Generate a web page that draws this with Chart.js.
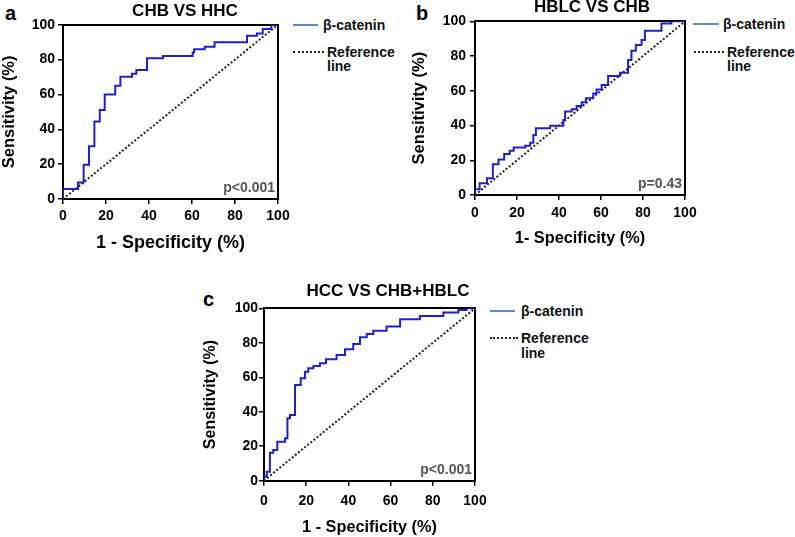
<!DOCTYPE html>
<html>
<head>
<meta charset="utf-8">
<script src="https://cdn.jsdelivr.net/npm/chart.js@4.4.0/dist/chart.umd.min.js"></script>
<style>
  html, body { margin: 0; padding: 0; background: #fff; overflow: hidden; }
  body { width: 795px; height: 537px; position: relative; font-family: "Liberation Sans", Arial, sans-serif; }
  canvas { position: absolute; }
  .txt { position: absolute; font-weight: bold; font-size: 14px; line-height: 16px; color: #111; white-space: nowrap; }
  .letter { position: absolute; font-weight: bold; font-size: 20px; line-height: 20px; color: #000; }
  .solid { position: absolute; height: 2px; background: #5f8cc6; }
  .dots { position: absolute; height: 0; border-top: 2px dotted #222; }
</style>
</head>
<body>

<div class="letter" style="left:5px; top:3px;">a</div>
<div class="letter" style="left:416px; top:3px;">b</div>
<div class="letter" style="left:203px; top:289px;">c</div>

<!-- legends -->
<div class="solid" style="left:293px; top:24px; width:25px;"></div>
<div class="txt" style="left:323px; top:17px;">β-catenin</div>
<div class="dots" style="left:293px; top:51px; width:31px;"></div>
<div class="txt" style="left:327px; top:44px;">Reference</div>
<div class="txt" style="left:327px; top:58px;">line</div>

<div class="solid" style="left:693px; top:23px; width:26px;"></div>
<div class="txt" style="left:723px; top:16px;">β-catenin</div>
<div class="dots" style="left:694px; top:51px; width:30px;"></div>
<div class="txt" style="left:727px; top:44px;">Reference</div>
<div class="txt" style="left:727px; top:58px;">line</div>

<div class="solid" style="left:490px; top:310px; width:25px;"></div>
<div class="txt" style="left:521px; top:303px;">β-catenin</div>
<div class="dots" style="left:490px; top:337px; width:28px;"></div>
<div class="txt" style="left:521px; top:330px;">Reference</div>
<div class="txt" style="left:521px; top:345px;">line</div>

<canvas id="chartA" width="370" height="253" style="left:0px; top:1px;"></canvas>
<canvas id="chartB" width="364" height="251" style="left:410px; top:-3px;"></canvas>
<canvas id="chartC" width="374" height="256" style="left:201px; top:281px;"></canvas>

<script>
// tick labels on both axes
const axisTicks = [0, 20, 40, 60, 80, 100];

// reference (chance) line
const refX = [0, 100];
const refY = [0, 100];

// a: CHB VS HHC  (1 - specificity, sensitivity), top of each step
const fprA = [0, 0, 7.0, 9.6, 12.1, 14.6, 17.1, 19.4, 24.3, 26.7, 32.1, 34.1, 39.1, 46.5, 60.3, 61.0, 65.9, 70.5, 85.6, 90.2, 92.9, 96.9, 100];
const tprA = [0, 5.7, 9.5, 19.7, 30.2, 44.5, 51.1, 60.0, 65.0, 70.2, 71.8, 74.0, 80.7, 82.0, 84.0, 85.9, 87.4, 89.9, 93.7, 95.0, 97.5, 100, 100];

// b: HBLC VS CHB
const fprB = [0, 0, 2.2, 5.7, 8.5, 11.2, 13.9, 16.5, 18.4, 23.9, 26.3, 27.8, 29.0, 35.8, 42.1, 42.9, 46.0, 48.4, 50.8, 52.8, 56.3, 57.9, 60.3, 63.4, 69.0, 72.9, 74.5, 76.6, 79.3, 80.9, 88.8, 93.5, 100];
const tprB = [0, 3.3, 6.7, 9.6, 17.7, 20.5, 23.6, 25.5, 27.3, 28.4, 30.1, 34.5, 38.4, 39.9, 43.2, 48.0, 49.3, 51.2, 53.4, 55.7, 58.5, 60.8, 63.3, 68.5, 70.4, 77.7, 83.1, 86.4, 89.3, 94.6, 98.8, 100, 100];

// c: HCC VS CHB+HBLC
const fprC = [0, 0, 1.3, 2.8, 4.4, 6.3, 10.0, 11.1, 12.3, 14.7, 17.4, 19.4, 21.0, 23.4, 26.5, 29.4, 34.4, 38.4, 42.3, 45.5, 48.7, 51.8, 58.1, 64.5, 73.9, 85.0, 92.1, 96.0, 100];
const tprC = [0, 2.3, 5.2, 16.2, 17.8, 22.6, 24.6, 36.2, 38.1, 55.5, 59.4, 63.2, 65.2, 66.5, 68.1, 70.4, 72.9, 76.2, 79.3, 83.2, 85.1, 87.0, 89.4, 93.6, 95.6, 97.5, 99.0, 100, 100];

const FONT = '"Liberation Sans", Arial, sans-serif';

function pts(xs, ys) {
  return xs.map(function (x, i) { return {x: x, y: ys[i]}; });
}

function makePanel(id, p) {
  var ctx = document.getElementById(id).getContext('2d');

  // p-value printed in the lower right corner of the plot
  var pLabel = {
    id: 'pLabel',
    afterDraw: function (chart) {
      var a = chart.chartArea, c = chart.ctx;
      c.save();
      c.font = 'bold 14px ' + FONT;
      c.fillStyle = '#555';
      c.textAlign = 'right';
      c.textBaseline = 'middle';
      c.fillText(p.pText, a.right - 3, a.bottom - 11);
      c.restore();
    }
  };

  var setTicks = function (s) { s.ticks = axisTicks.map(function (v) { return {value: v}; }); };

  return new Chart(ctx, {
    type: 'line',
    data: {
      datasets: [{
        label: 'β-catenin',
        data: pts(p.fpr, p.tpr),
        stepped: true,
        borderColor: '#1f1fd0',
        borderWidth: 2,
        pointRadius: 0,
        fill: false
      }, {
        label: 'Reference line',
        data: pts(refX, refY),
        borderColor: '#222',
        borderWidth: 2,
        borderDash: [2, 2],
        pointRadius: 0,
        fill: false
      }]
    },
    options: {
      responsive: false,
      animation: false,
      layout: { padding: 0 },
      plugins: {
        legend: { display: false },
        tooltip: { enabled: false },
        title: {
          display: true,
          text: p.title,
          color: '#000',
          font: { family: FONT, size: 17, weight: 'bold', lineHeight: 1.2 },
          padding: { top: 0, bottom: p.titleGap }
        }
      },
      scales: {
        x: {
          type: 'linear', min: 0, max: 100,
          afterBuildTicks: setTicks,
          afterFit: function (s) { s.height = p.xH; },
          grid: { drawOnChartArea: false, color: '#000', lineWidth: 1.5, tickLength: 5 },
          border: { color: '#000', width: 2 },
          ticks: { color: '#000', padding: p.xPad, maxRotation: 0, font: { family: FONT, size: 14, weight: 'bold' } },
          title: { display: true, text: p.xTitle, color: '#000', padding: 0,
                   font: { family: FONT, size: p.xTitleSize, weight: 'bold', lineHeight: 1.2 } }
        },
        y: {
          type: 'linear', min: 0, max: 100,
          afterBuildTicks: setTicks,
          afterFit: function (s) { s.width = p.yW; },
          grid: { drawOnChartArea: false, color: '#000', lineWidth: 1.5, tickLength: 5 },
          border: { color: '#000', width: 2 },
          ticks: { color: '#000', padding: p.yPad, font: { family: FONT, size: 14, weight: 'bold' } },
          title: { display: true, text: 'Sensitivity (%)', color: '#000', padding: 0,
                   font: { family: FONT, size: p.yTitleSize, weight: 'bold', lineHeight: 1.2 } }
        },
        // empty axes that close the frame on top and right
        x2: {
          type: 'linear', position: 'top', display: true,
          afterFit: function (s) { s.height = 0; },
          grid: { display: false }, ticks: { display: false },
          border: { color: '#000', width: 2 }
        },
        y2: {
          type: 'linear', position: 'right', display: true,
          afterFit: function (s) { s.width = p.rightW; },
          grid: { display: false }, ticks: { display: false },
          border: { color: '#000', width: 2 }
        }
      }
    },
    plugins: [pLabel]
  });
}

makePanel('chartA', {
  title: 'CHB VS HHC', pText: 'p<0.001', fpr: fprA, tpr: tprA,
  titleGap: 3.3, yW: 63, rightW: 92, xH: 55, xPad: 4, yPad: 3,
  xTitle: '1 - Specificity (%)', xTitleSize: 18, yTitleSize: 16.5
});

makePanel('chartB', {
  title: 'HBLC VS CHB', pText: 'p=0.43', fpr: fprB, tpr: tprB,
  titleGap: 3.9, yW: 65, rightW: 89, xH: 53, xPad: 4.6, yPad: 4,
  xTitle: '1- Specificity (%)', xTitleSize: 16.3, yTitleSize: 16.5
});

makePanel('chartC', {
  title: 'HCC VS CHB+HBLC', pText: 'p<0.001', fpr: fprC, tpr: tprC,
  titleGap: 6.9, yW: 63, rightW: 100, xH: 56.3, xPad: 6.6, yPad: 1,
  xTitle: '1 - Specificity (%)', xTitleSize: 16.3, yTitleSize: 16
});
</script>
</body>
</html>
